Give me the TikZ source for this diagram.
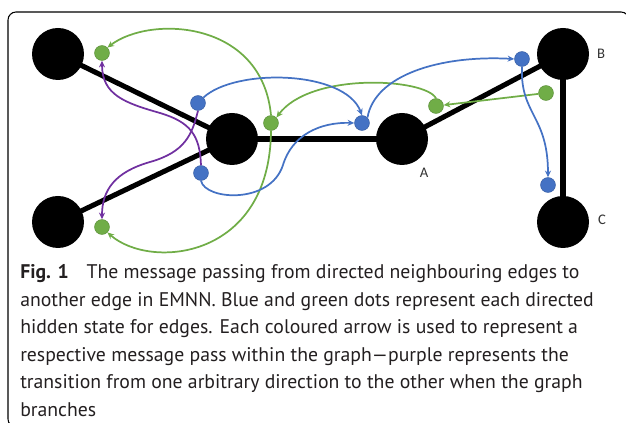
\documentclass[tikz,border=0pt]{standalone}
\usepackage{fontspec}
\setmainfont{PT Sans}
\newfontfamily\lblfont{Carlito}
\usetikzlibrary{arrows.meta}
\definecolor{eg}{HTML}{70AD47}
\definecolor{eb}{HTML}{4472C4}
\definecolor{ep}{HTML}{7030A0}
\definecolor{captxt}{HTML}{231F20}
\begin{document}
\begin{tikzpicture}[x=0.75pt,y=-0.75pt,
  big/.style={circle,fill=black,minimum size=39pt,inner sep=0pt},
  dot/.style={circle,minimum size=11.2pt,inner sep=0pt,line width=0.4pt},
  gdot/.style={dot,fill=eg,draw=eg!85!black},
  bdot/.style={dot,fill=eb,draw=eb!85!black},
  graphedge/.style={line width=3.8pt,black},
  msg/.style={line width=1.3pt,-{Stealth[length=5pt,width=4.5pt]}},
  gmsg/.style={msg,eg}, bmsg/.style={msg,eb}, pmsg/.style={msg,ep},
  lbl/.style={font=\lblfont\fontsize{11}{13}\selectfont,text=black!80},
  capline/.style={anchor=base west,inner sep=0pt,text=captxt,font=\fontsize{14.8}{17}\selectfont}]

\useasboundingbox (0,0) rectangle (626,423);
\begin{scope}
  \clip (0,0) rectangle (626,423);
  \draw[line width=0.8pt,rounded corners=6pt] (8,12) rectangle (629,427);
\end{scope}

% big nodes
\node[big] (tl) at (58,54) {};
\node[big] (bl) at (58,222) {};
\node[big] (m) at (232,139) {};
\node[big] (a) at (402,139) {};
\node[big] (b) at (563,54) {};
\node[big] (c) at (563,222) {};

% graph edges
\draw[graphedge] (tl.center) -- (m.center);
\draw[graphedge] (bl.center) -- (m.center);
\draw[graphedge] (m.center) -- (a.center);
\draw[graphedge] (a.center) -- (b.center);
\draw[graphedge] (b.center) -- (c.center);

% labels
\node[lbl] (la) at (424,173) {A};
\node[lbl] (lb) at (601,54) {B};
\node[lbl] (lc) at (602,220) {C};

% hidden-state dots
\node[gdot] (g1) at (102,53) {};
\node[gdot] (g2) at (102,227) {};
\node[bdot] (b1) at (198,103) {};
\node[bdot] (b2) at (201,173) {};
\node[gdot] (g3) at (271,123) {};
\node[bdot] (b3) at (362,123) {};
\node[gdot] (g4) at (436,106) {};
\node[gdot] (g5) at (546,93) {};
\node[bdot] (b4) at (522,59) {};
\node[bdot] (b5) at (548,185) {};

% green messages
\draw[gmsg] (g5) -- (g4);
\draw[gmsg] (g4.north) .. controls (425,78) and (310,72) .. (g3.north east);
\draw[gmsg] (g3.north) .. controls (262,20) and (150,15) .. (g1.north east);
\draw[gmsg] (g3.south) .. controls (270,260) and (150,270) .. (g2.south east);

% blue messages
\draw[bmsg] (b1.north east) .. controls (235,68) and (345,70) .. (b3.north);
\draw[bmsg] (b2.south) .. controls (205,200) and (270,205) .. (283,165)
  .. controls (292,135) and (320,122) .. (b3.west);
\draw[bmsg] (b3.north east) .. controls (375,75) and (440,55) .. (b4.west);
\draw[bmsg] (b4.south) .. controls (520,115) and (548,115) .. (b5.north);

% purple messages
\draw[pmsg] (b2.north) .. controls (200,135) and (190,122) .. (160,113)
  .. controls (125,103) and (102,95) .. (g1.south);
\draw[pmsg] (b1.south) .. controls (192,135) and (185,152) .. (150,162)
  .. controls (115,172) and (102,190) .. (g2.north);

% caption
\node[capline] (cap1) at (20,279) {\textbf{Fig. 1}\hspace{0.9em}The message passing from directed neighbouring edges to};
\node[capline] (cap2) at (20,306.5) {another edge in EMNN. Blue and green dots represent each directed};
\node[capline] (cap3) at (20,334) {hidden state for edges. Each coloured arrow is used to represent a};
\node[capline] (cap4) at (20,361.5) {respective message pass within the graph---purple represents the};
\node[capline] (cap5) at (20,389) {transition from one arbitrary direction to the other when the graph};
\node[capline] (cap6) at (20,416.5) {branches};
\end{tikzpicture}
\end{document}
